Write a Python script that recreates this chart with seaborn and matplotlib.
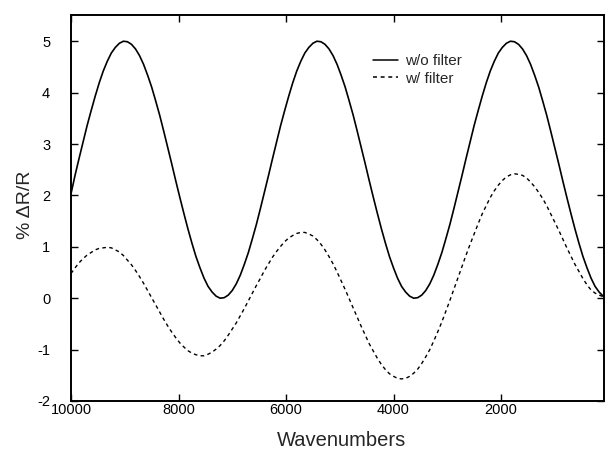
import matplotlib
matplotlib.use("Agg")
import matplotlib.pyplot as plt
import seaborn as sns
import pandas as pd

wavenumbers = list(range(10000, 99, -75))

without_filter = [
    2.03, 2.39, 2.72, 3.04, 3.36, 3.65, 3.93, 4.19, 4.42, 4.61, 4.77, 4.88,
    4.96, 5.00, 4.99, 4.94, 4.85, 4.72, 4.55, 4.34, 4.11, 3.84, 3.56, 3.25,
    2.93, 2.61, 2.28, 1.96, 1.65, 1.35, 1.07, 0.81, 0.59, 0.39, 0.23, 0.12,
    0.04, 0.00, 0.01, 0.06, 0.15, 0.28, 0.45, 0.66, 0.89, 1.16, 1.44, 1.75,
    2.07, 2.39, 2.72, 3.04, 3.36, 3.65, 3.93, 4.19, 4.42, 4.61, 4.77, 4.88,
    4.96, 5.00, 4.99, 4.94, 4.85, 4.72, 4.55, 4.34, 4.11, 3.84, 3.56, 3.25,
    2.93, 2.61, 2.28, 1.96, 1.65, 1.35, 1.07, 0.81, 0.59, 0.39, 0.23, 0.12,
    0.04, 0.00, 0.01, 0.06, 0.15, 0.28, 0.45, 0.66, 0.89, 1.16, 1.44, 1.75,
    2.07, 2.39, 2.72, 3.04, 3.36, 3.65, 3.93, 4.19, 4.42, 4.61, 4.77, 4.88,
    4.96, 5.00, 4.99, 4.94, 4.85, 4.72, 4.55, 4.34, 4.11, 3.84, 3.56, 3.25,
    2.93, 2.61, 2.28, 1.96, 1.65, 1.35, 1.07, 0.81, 0.59, 0.39, 0.23, 0.12,
    0.04,
]

with_filter = [
    0.48, 0.59, 0.69, 0.77, 0.84, 0.89, 0.94, 0.97, 0.98, 0.99,
    0.98, 0.94, 0.90, 0.83, 0.74, 0.65, 0.54, 0.42, 0.29, 0.15,
    0.01, -0.13, -0.27, -0.41, -0.54, -0.66, -0.77, -0.87, -0.95, -1.02,
    -1.07, -1.10, -1.12, -1.12, -1.09, -1.05, -0.99, -0.92, -0.83, -0.72,
    -0.60, -0.48, -0.34, -0.20, -0.05, 0.10, 0.25, 0.39, 0.54, 0.67,
    0.80, 0.91, 1.01, 1.10, 1.17, 1.22, 1.26, 1.28, 1.28, 1.25,
    1.21, 1.14, 1.05, 0.94, 0.81, 0.67, 0.51, 0.34, 0.17, -0.01,
    -0.19, -0.37, -0.55, -0.72, -0.89, -1.03, -1.17, -1.29, -1.39, -1.47,
    -1.52, -1.56, -1.57, -1.56, -1.52, -1.46, -1.38, -1.27, -1.14, -1.00,
    -0.83, -0.65, -0.46, -0.25, -0.04, 0.18, 0.40, 0.62, 0.84, 1.05,
    1.25, 1.45, 1.64, 1.80, 1.96, 2.09, 2.20, 2.29, 2.36, 2.40,
    2.42, 2.41, 2.39, 2.34, 2.26, 2.17, 2.06, 1.94, 1.80, 1.64,
    1.48, 1.32, 1.15, 0.98, 0.82, 0.66, 0.52, 0.38, 0.26, 0.16,
    0.10, 0.06, 0.03,
]

series_labels = ["w/o filter", "w/ filter"]
x_ticks = [10000, 8000, 6000, 4000, 2000]
y_ticks = [-2, -1, 0, 1, 2, 3, 4, 5]

# ---- styling ----
sns.set_style("ticks")
plt.rcParams["font.family"] = ["Liberation Sans", "DejaVu Sans"]

n = len(wavenumbers)
df = pd.DataFrame({
    "x": wavenumbers * 2,
    "y": without_filter[:n] + with_filter[:n],
    "series": [series_labels[0]] * n + [series_labels[1]] * n,
})

fig = plt.figure(figsize=(6.06, 4.51), dpi=100)
ax = fig.add_axes([71 / 606, 1 - 401 / 451, (604 - 71) / 606, (401 - 14.5) / 451])

sns.lineplot(data=df, x="x", y="y", hue="series", style="series",
             palette=["black", "black"],
             dashes={series_labels[0]: "", series_labels[1]: (2.6, 2.4)},
             sort=False, estimator=None, ax=ax, legend=True)
for ln, lw in zip(ax.lines[:2], [1.2, 1.0]):
    ln.set_linewidth(lw)

ax.set_xlim(10000, 84)
ax.set_ylim(-2, 5.52)
ax.set_xticks(x_ticks)
ax.set_xticklabels([str(t) for t in x_ticks])
ax.set_yticks(y_ticks)
ax.set_yticklabels([str(t) for t in y_ticks])

for s in ax.spines.values():
    s.set_visible(True)
    s.set_linewidth(1.4)
    s.set_color("black")

ax.tick_params(axis="both", direction="in", top=True, right=True,
               labeltop=False, labelright=False, length=5, width=1.0,
               labelsize=10.5, colors="black")
ax.tick_params(axis="x", pad=1.5)
ax.tick_params(axis="y", pad=15)

ax.set_xlabel("Wavenumbers", fontsize=14.5)
ax.set_ylabel("% ΔR/R", fontsize=14)
ax.xaxis.set_label_coords(0.507, -0.078)
ax.yaxis.set_label_coords(-0.069, 0.507)

handles, labels = ax.get_legend_handles_labels()
leg = ax.legend(handles, labels, loc="upper left", bbox_to_anchor=(0.567, 0.898),
                frameon=False, fontsize=11, borderpad=0, borderaxespad=0,
                handlelength=1.65, handletextpad=0.45, labelspacing=0.25)
for h in leg.get_lines():
    h.set_linewidth(1.1)

fig.savefig("out.png", dpi=100)
